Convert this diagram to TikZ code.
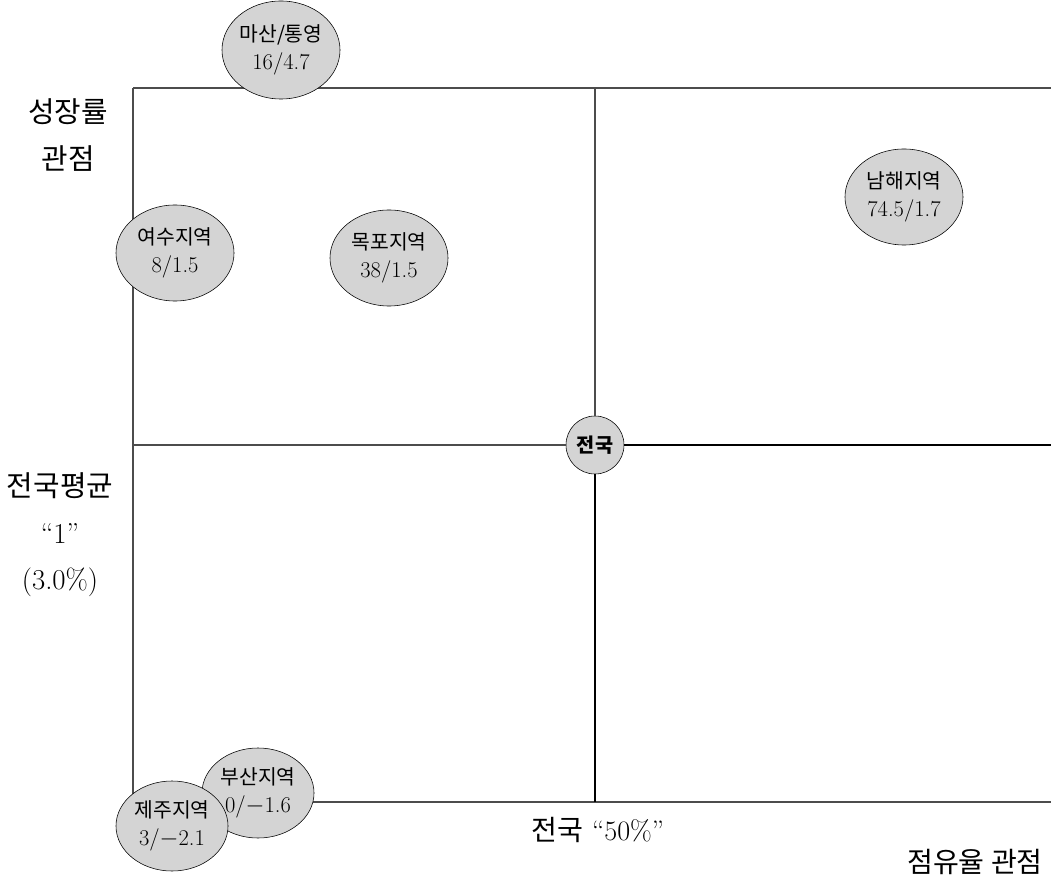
\documentclass[tikz,border=0pt]{standalone}
\usepackage{fontspec}
\usepackage{tikz}
\usetikzlibrary{shapes.geometric}
\newfontfamily\kr{Noto Sans CJK KR}
\newcommand{\krs}[1]{{\kr\fontsize{14.5}{20}\selectfont #1}}
\tikzset{
  region/.style={ellipse,draw,fill=black!17,inner sep=0pt,align=center,
    minimum width=2.95cm,minimum height=2.4cm,
    font=\fontsize{16}{20}\selectfont},
  hub/.style={circle,draw,fill=black!17,inner sep=0pt,minimum size=1.45cm,
    font=\kr\bfseries\fontsize{14}{16}\selectfont},
  axislabel/.style={align=center,font=\fontsize{20.5}{33}\selectfont},
  thinline/.style={draw=black!70,line width=0.8pt},
  thickline/.style={draw=black,line width=1.4pt},
}

\begin{document}
\begin{tikzpicture}[x=0.025cm,y=-0.025cm]
    \useasboundingbox (0,0) rectangle (1051,885);
    \coordinate (tl) at (133,88);
    \coordinate (tr) at (1051,88);
    \coordinate (bl) at (133,802);
    \coordinate (br) at (1051,802);
    \coordinate (tm) at (595,88);
    \coordinate (bm) at (595,802);
    \coordinate (ml) at (133,445);
    \coordinate (mr) at (1051,445);
    \node[hub] (nat) at (595,445) {전국};
    \draw[thinline] (tl) -- (tr);
    \draw[thinline] (tl) -- (bl) -- (br);
    \draw[thinline] (tm) -- (nat);
    \draw[thinline] (ml) -- (nat);
    \draw[thickline] (nat) -- (mr);
    \draw[thickline] (nat) -- (bm);
    \node[region,minimum height=2.45cm] (masan) at (281,50) {\krs{마산/통영}\\16/4.7};
    \node[region] (yeosu) at (175,253) {\krs{여수지역}\\8/1.5};
    \node[region] (mokpo) at (389,258) {\krs{목포지역}\\38/1.5};
    \node[region] (namhae) at (904,197) {\krs{남해지역}\\74.5/1.7};
    \node[region,minimum width=2.8cm,minimum height=2.25cm] (busan) at (258,793) {\krs{부산지역}\\0/$-$1.6};
    \node[region,minimum width=2.8cm,minimum height=2.25cm] (jeju) at (172,826) {\krs{제주지역}\\3/$-$2.1};
    \node[axislabel] (growth) at (68,135) {{\kr 성장률}\\{\kr 관점}};
    \node[axislabel] (avg) at (60,535) {{\kr 전국평균}\\“1”\\(3.0\%)};
    \node[font=\fontsize{20}{22}\selectfont] (half) at (598,830) {{\kr 전국} “50\%”};
    \node[font=\fontsize{20}{22}\selectfont] (share) at (975,862) {\kr 점유율 관점};
\end{tikzpicture}
\end{document}
